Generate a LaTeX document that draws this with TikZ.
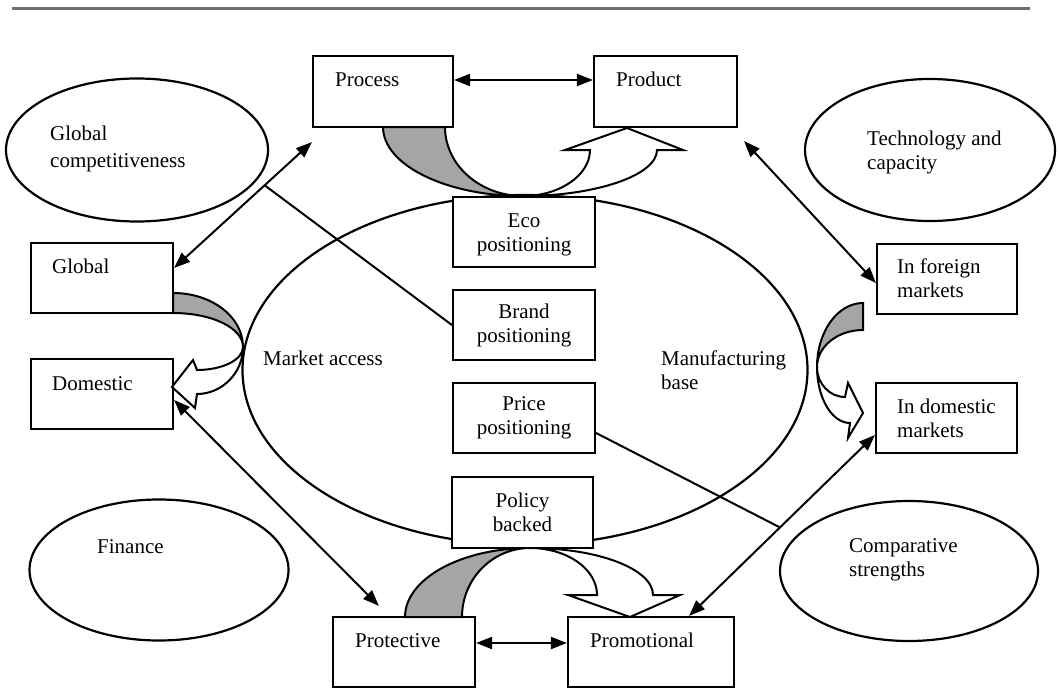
\documentclass[tikz,border=0pt]{standalone}
\usepackage{fontspec}
\setmainfont{Liberation Serif}
\usetikzlibrary{shapes.geometric,arrows.meta,calc}
\definecolor{shade}{RGB}{165,165,165}
\definecolor{rulegray}{RGB}{110,110,110}
\begin{document}
\begin{tikzpicture}[x=1pt,y=-1pt,
  every node/.style={font=\fontsize{21}{24}\selectfont},
  box/.style={draw,line width=2.2pt,fill=white,minimum width=142pt,minimum height=70pt,inner sep=0pt,align=center},
  oval/.style={draw,ellipse,line width=2.2pt,inner sep=0pt},
  lbl/.style={inner sep=0pt,anchor=base west},
  mlbl/.style={inner sep=0pt,anchor=north west,align=left},
  conn/.style={line width=2pt},
  biarrow/.style={conn,{Triangle[length=16pt,width=12pt]}-{Triangle[length=16pt,width=12pt]}},
  shadedpart/.style={draw,line width=2pt,fill=shade,line join=miter},
  whitepart/.style={draw,line width=2pt,fill=white,line join=miter}]
\useasboundingbox (0,0) rectangle (1059,690);
\fill[white] (0,0) rectangle (1059,690);
% page rule of the scan
\draw[rulegray,line width=3pt] (12,9) -- (1030,9);

% ellipses
\node[oval,minimum width=565pt,minimum height=350pt] (core) at (525,370) {};
\node[oval,minimum width=262pt,minimum height=143pt] (gc) at (137,150) {};
\node[oval,minimum width=250pt,minimum height=142pt] (tc) at (930,150) {};
\node[oval,minimum width=259pt,minimum height=141pt] (fin) at (159,570) {};
\node[oval,minimum width=258pt,minimum height=140pt] (cs) at (909,571) {};

% boxes
\node[box,minimum width=140pt,minimum height=71pt] (proc) at (383,91.5) {};
\node[box,minimum width=143pt,minimum height=71pt] (prod) at (665.5,91.5) {};
\node[box] (eco) at (524,232) {\rule{0pt}{20pt}Eco\\positioning};
\node[box] (brand) at (524,325) {Brand\\positioning};
\node[box] (price) at (524,418) {Price\\positioning};
\node[box,minimum width=141pt,minimum height=71pt] (policy) at (522.5,512.5) {Policy\\backed};
\node[box] (glob) at (102,278) {};
\node[box] (dom) at (102,394) {};
\node[box,minimum width=140pt] (ifm) at (947,279) {};
\node[box,minimum width=141pt] (idm) at (946.5,418) {};
\node[box] (prot) at (404,652) {};
\node[box,minimum width=166pt] (prom) at (651,652) {};

% texts
\node[lbl] (tproc) at (335,87) {Process};
\node[lbl] (tprod) at (616,87) {Product};
\node[lbl] (tglob) at (52,273) {Global};
\node[lbl] (tdom) at (52,390) {Domestic};
\node[mlbl] (tifm) at (897,258.7) {In foreign\\markets};
\node[mlbl] (tidm) at (897,398.7) {In domestic\\markets};
\node[lbl] (tprot) at (355,647) {Protective};
\node[lbl] (tprom) at (590,647) {Promotional};
\node[mlbl,font=\fontsize{21}{27}\selectfont] (tgc) at (50,126) {Global\\competitiveness};
\node[mlbl] (ttc) at (867,131) {Technology and\\capacity};
\node[lbl] (tfin) at (97,553) {Finance};
\node[mlbl] (tcs) at (849,538.8) {Comparative\\strengths};
\node[lbl] (tma) at (263,365) {Market access};
\node[mlbl] (tmb) at (661,350.7) {Manufacturing\\base};

% connectors
\draw[biarrow] ([yshift=11.5pt]proc.east) -- ([yshift=11.5pt]prod.west);
\draw[biarrow] ([yshift=9pt]prot.east) -- ([yshift=9pt]prom.west);
\draw[biarrow] ([yshift=10pt]glob.east) -- coordinate[pos=0.657] (j1) ([yshift=-14pt]proc.south west);
\draw[conn] (j1) -- (brand.west);
\draw[biarrow] ([xshift=6pt,yshift=-13pt]prod.south east) -- ([yshift=-4pt]ifm.west);
\draw[biarrow] ([yshift=-6pt]dom.east) -- ([xshift=47pt,yshift=10pt]prot.north west);
\draw[biarrow] ([xshift=-46pt]prom.north east) -- coordinate[pos=0.489] (j2) ([yshift=-17pt]idm.west);
\draw[conn] ([yshift=-15pt]price.east) -- (j2);

% curved block arrows: top (Process -> Product)
\draw[shadedpart] (383,127) .. controls (383,165) and (446,196) .. (523,196)
  .. controls (480,196) and (445,165) .. (445,127) -- cycle;
\draw[whitepart] (523,196) .. controls (597,196) and (657,175) .. (657,150)
  -- (683,150) -- (627,128) -- (565,150) -- (590,150)
  .. controls (590,175) and (560,196) .. (523,196) -- cycle;

% left (Global -> Domestic)
\draw[shadedpart] (173,293) .. controls (212,293) and (243,317) .. (243,347)
  .. controls (243,328) and (212,313) .. (173,313) -- cycle;
\draw[whitepart] (243,347) .. controls (243,360) and (222,370) .. (197,370)
  -- (193,360) -- (172,387) -- (195,408) -- (197,394)
  .. controls (222,394) and (243,373) .. (243,347) -- cycle;

% right (In foreign -> In domestic)
\draw[shadedpart] (863,303) .. controls (837.6,303) and (817,331.7) .. (817,367)
  .. controls (817,346.6) and (837.6,330) .. (863,330) -- cycle;
\draw[whitepart] (817,367) .. controls (817,383.6) and (829.5,397) .. (845,397)
  -- (848,383) -- (863,413) -- (848,438) -- (850,423)
  .. controls (831.8,423) and (817,397.9) .. (817,367) -- cycle;

% bottom (Protective -> Promotional)
\draw[shadedpart] (405,617) .. controls (405,578.9) and (461,548) .. (530,548)
  .. controls (492.5,548) and (462,578.9) .. (462,617) -- cycle;
\draw[whitepart] (530,548) .. controls (598,548) and (653,569) .. (653,595)
  -- (680,595) -- (630,617) -- (568,595) -- (597,595)
  .. controls (597,569) and (567,548) .. (530,548) -- cycle;
\end{tikzpicture}
\end{document}
